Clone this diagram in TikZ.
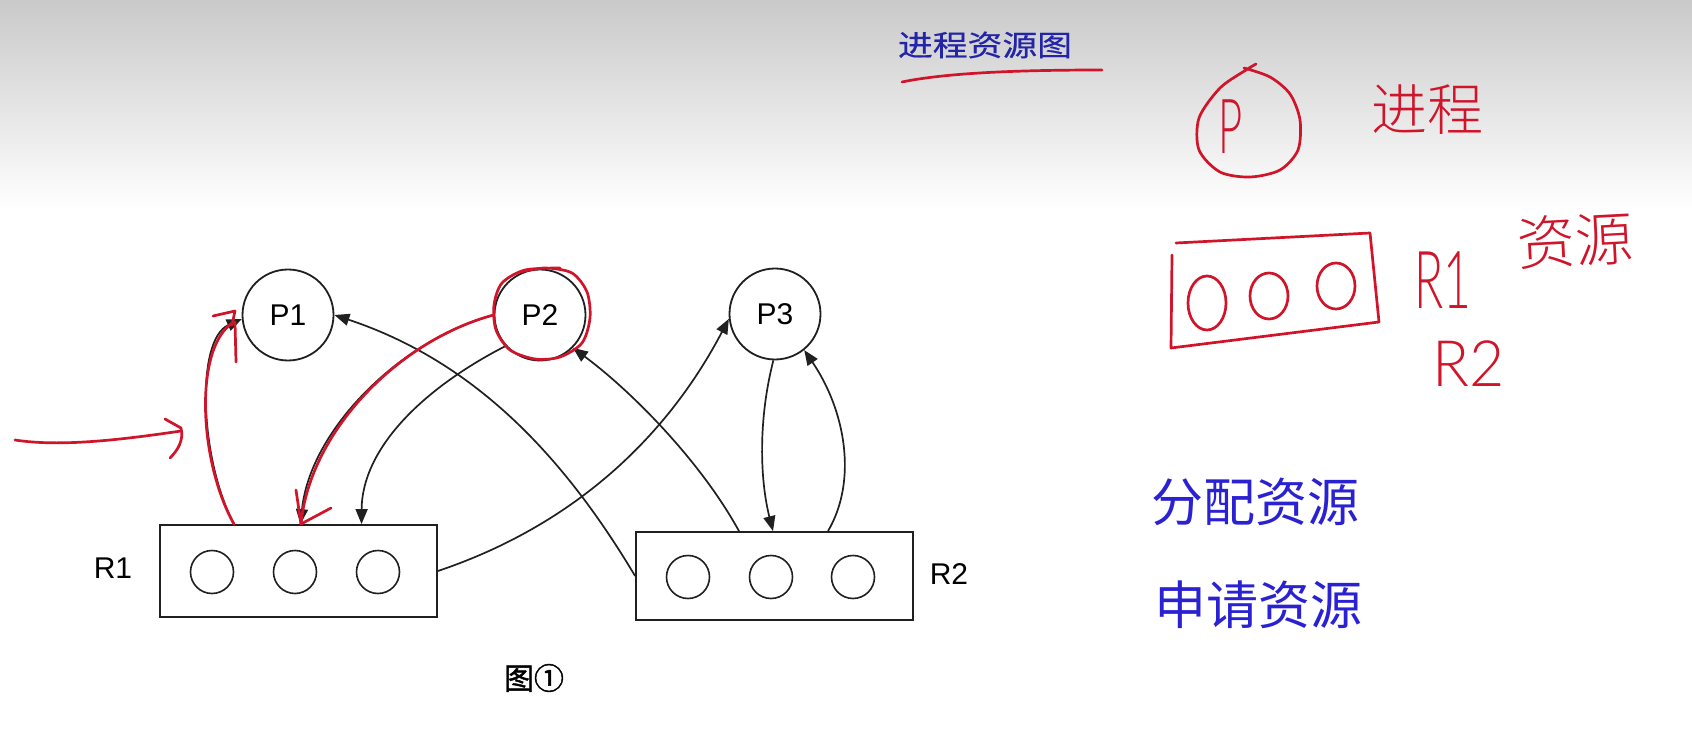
\documentclass[tikz,border=0pt]{standalone}
\usepackage{fontspec}
\setmainfont{Liberation Sans}
\newfontfamily\cjk{Noto Sans CJK SC}
\newfontfamily\cjkbold{Noto Sans CJK SC}[FakeBold=1.5]
\newfontfamily\cjktitle{Noto Sans CJK SC}[FakeBold=0.5]
\IfFontExistsTF{Noto Sans CJK SC Light}
  {\newfontfamily\cjkhand{Noto Sans CJK SC Light}}
  {\newfontfamily\cjkhand{Noto Sans CJK SC}}
\IfFontExistsTF{Lato Light}
  {\newfontfamily\handlatin{Lato Light}}
  {\newfontfamily\handlatin{Liberation Sans}}
\usetikzlibrary{arrows.meta,calc}
\definecolor{pen}{HTML}{D0142A}
\definecolor{bpen}{HTML}{2A22D2}
\definecolor{titleblue}{HTML}{2424A8}
\definecolor{ink}{HTML}{202020}
\begin{document}
\begin{tikzpicture}[x=1pt,y=-1pt,
  proc/.style={circle,draw=ink,line width=1.8pt,minimum size=91pt,inner sep=0pt,font=\fontsize{30}{30}\selectfont},
  resbox/.style={rectangle,draw=ink,line width=1.8pt,minimum width=277pt,inner sep=0pt},
  unit/.style={circle,draw=ink,line width=1.6pt,minimum size=43pt,inner sep=0pt},
  lbl/.style={font=\fontsize{30}{30}\selectfont},
  edge/.style={draw=ink,line width=1.7pt,-{Triangle[length=15pt,width=12pt]}},
  redpen/.style={draw=pen,line width=2.7pt,line cap=round,line join=round},
  redtext/.style={text=pen,inner sep=0pt},
  bluetext/.style={text=bpen,inner sep=0pt,font=\cjk\fontsize{52}{52}\selectfont}
]
\useasboundingbox (0,0) rectangle (1692,738);
\fill[white] (0,0) rectangle (1692,738);
\shade[top color=black!21,bottom color=white] (0,0) rectangle (1692,210);

% ---- processes
\node[proc] (P1) at (288,315) {P1};
\node[proc] (P2) at (540,315) {P2};
\node[proc] (P3) at (775,314) {P3};

% ---- resources
\node[resbox,minimum height=92pt] (R1) at (298.5,571) {};
\node[resbox,minimum height=88pt] (R2) at (774.5,576) {};
\node[unit] (R1a) at (212,572) {};
\node[unit] (R1b) at (295,572) {};
\node[unit] (R1c) at (378,572) {};
\node[unit] (R2a) at (688,577) {};
\node[unit] (R2b) at (771,577) {};
\node[unit] (R2c) at (853,577) {};
\node[lbl] (R1l) at (113,568) {R1};
\node[lbl] (R2l) at (949,574) {R2};

% ---- black edges
\draw[edge] ([xshift=-64.5pt]R1.north) .. controls (200,460) and (195,340) .. (P1.185);
\draw[edge] (P2.222) .. controls (420,390) and (362,450) .. ([xshift=63pt]R1.north);
\draw[edge] (P2.180) .. controls (400,340) and (310,430) .. ([xshift=2pt]R1.north);
\draw[edge] (R2.west) .. controls (560,450) and (470,360) .. (P1.east);
\draw[edge] (R1.east) .. controls (560,530) and (660,450) .. (P3.186);
\draw[edge] ([xshift=-35.5pt]R2.north) .. controls (700,460) and (630,390) .. (P2.-45);
\draw[edge] (P3.-92) .. controls (758,420) and (760,480) .. ([xshift=-1.5pt]R2.north);
\draw[edge] ([xshift=53.5pt]R2.north) .. controls (858,480) and (845,410) .. (P3.-51);

% ---- red annotations on the graph
\draw[redpen] plot[smooth] coordinates {(520,272) (545,268) (572,273) (587,292) (590,318) (582,343) (560,357) (535,359) (510,350) (496,330) (494,305) (502,283) (525,270) (560,268)};
\draw[redpen] ([xshift=-64.5pt]R1.north) .. controls (198,460) and (194,345) .. (234,322);
\draw[redpen] (236,362) -- (235,322);
\draw[redpen] (213,316) -- (235,311) -- (232,325);
\draw[redpen] (P2.180) .. controls (400,340) and (310,430) .. (301,524);
\draw[redpen] (296,490) -- (301,524) -- (331,508);
\draw[redpen] (15,440) .. controls (60,447) and (120,440) .. (181,431);
\draw[redpen] (165,419) -- (181,428) .. controls (184,440) and (178,450) .. (170,458);

% ---- caption
\node[font=\cjkbold\fontsize{30}{30}\selectfont] (cap) at (534,678) {图①};

% ---- title
\node[text=titleblue,font=\cjktitle\fontsize{29}{29}\selectfont,xscale=1.2,transform shape] (title) at (985,45) {进程资源图};
\draw[redpen] (902,82) .. controls (950,72) and (1030,70) .. (1102,70);

% ---- legend: process
\draw[redpen] plot[smooth] coordinates {(1256,64) (1246,70) (1220,88) (1199,118) (1199,150) (1220,172) (1250,177) (1280,170) (1298,150) (1300,120) (1290,94) (1270,77) (1244,68)};
\node[redtext,font=\handlatin\fontsize{76}{76}\selectfont,xscale=0.55,transform shape] (pP) at (1231,127) {P};
\node[redtext,font=\cjkhand\fontsize{56}{56}\selectfont] (jc) at (1427,110) {进程};

% ---- legend: resource
\draw[redpen] (1172,255) -- (1171,348) -- (1379,322) -- (1370,233) -- (1176,243);
\draw[redpen] (1207,303) ellipse [x radius=19pt, y radius=27pt];
\draw[redpen] (1269,296) ellipse [x radius=19pt, y radius=23pt];
\draw[redpen] (1336,286) ellipse [x radius=19pt, y radius=23pt];
\node[redtext,font=\handlatin\fontsize{80}{80}\selectfont,xscale=0.6,transform shape] (lr1) at (1443,280) {R1};
\node[redtext,font=\handlatin\fontsize{64}{64}\selectfont,xscale=0.95,transform shape] (lr2) at (1469,364) {R2};
\node[redtext,font=\cjkhand\fontsize{58}{58}\selectfont,rotate=3] (zy) at (1575,241) {资源};

% ---- blue notes
\node[bluetext] (fp) at (1255,502) {分配资源};
\node[bluetext] (sq) at (1258,605) {申请资源};
\end{tikzpicture}
\end{document}
